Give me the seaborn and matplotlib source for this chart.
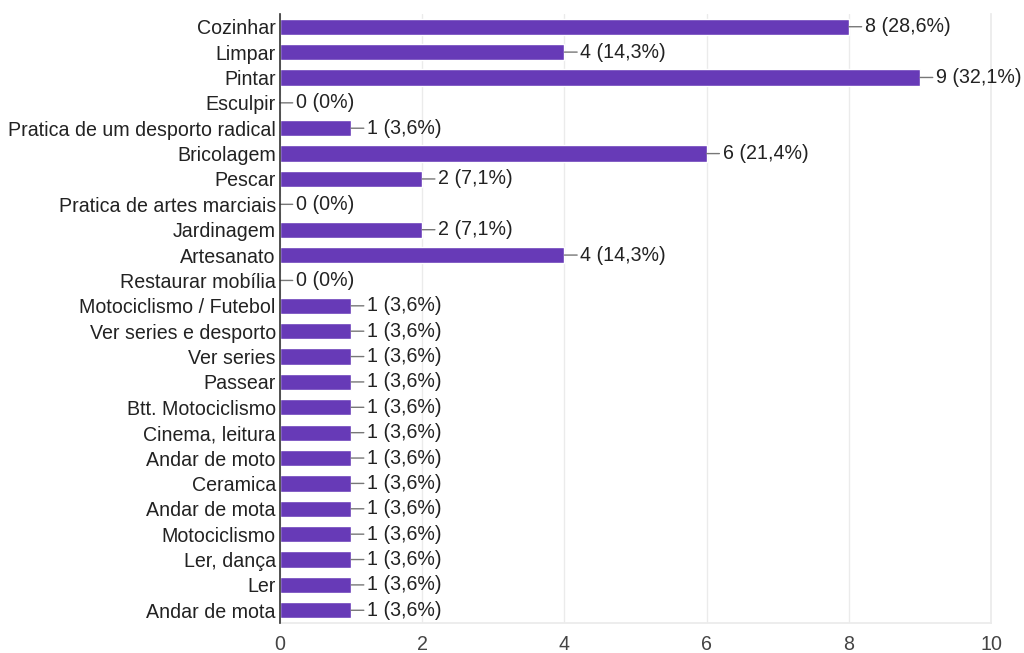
import matplotlib
matplotlib.use("Agg")
import matplotlib.pyplot as plt
import seaborn as sns
import pandas as pd

categories = ["Cozinhar", "Limpar", "Pintar", "Esculpir", "Pratica de um desporto radical",
              "Bricolagem", "Pescar", "Pratica de artes marciais", "Jardinagem", "Artesanato",
              "Restaurar mobília", "Motociclismo / Futebol", "Ver series e desporto", "Ver series",
              "Passear", "Btt. Motociclismo", "Cinema, leitura", "Andar de moto", "Ceramica",
              "Andar de mota", "Motociclismo", "Ler, dança", "Ler", "Andar de mota"]
counts = [8, 4, 9, 0, 1, 6, 2, 0, 2, 4, 0, 1, 1, 1, 1, 1, 1, 1, 1, 1, 1, 1, 1, 1]
total = 28
xticks = [0, 2, 4, 6, 8, 10]

sns.set_theme(style="white")
plt.rcParams['font.family'] = ['Liberation Sans', 'DejaVu Sans']

ids = [f"r{i}" for i in range(len(categories))]
df = pd.DataFrame({"id": ids, "count": counts})

fig = plt.figure(figsize=(10.24, 6.53), dpi=100)
ax = fig.add_axes([0.2734, 0.046, 0.6945, 0.9325])
sns.barplot(data=df, x="count", y="id", order=ids, orient="h", color="#673ab7",
            saturation=1, width=0.64, ax=ax, zorder=3)

fs = 14.1
ax.set_xlim(0, 10)
ax.set_ylim(len(categories) - 0.5, -0.5)
ax.set_xticks(xticks)
ax.set_xticklabels([str(t) for t in xticks], fontsize=fs, color="#444444")
ax.set_yticks(range(len(categories)))
ax.set_yticklabels(categories, fontsize=fs, color="#222222")
ax.tick_params(axis="both", length=0)
ax.tick_params(axis="y", pad=3)
ax.tick_params(axis="x", pad=9)
ax.set_xlabel("")
ax.set_ylabel("")
ax.grid(axis="x", color="#ebebeb", linewidth=1, zorder=0)
ax.spines["top"].set_visible(False)
ax.spines["right"].set_color("#ebebeb")
ax.spines["bottom"].set_color("#ebebeb")
ax.spines["left"].set_color("#333333")
ax.spines["left"].set_linewidth(1.2)
ax.spines["left"].set_zorder(5)

for i, v in enumerate(counts):
    pct = v / total * 100
    pct_s = f"{pct:.1f}".replace(".", ",")
    if pct_s.endswith(",0"):
        pct_s = pct_s[:-2]
    label = f"{v} ({pct_s}%)"
    ax.annotate(label, xy=(v, i), xytext=(16, 0), textcoords="offset pixels",
                ha="left", va="center", fontsize=fs, color="#222222",
                arrowprops=dict(arrowstyle="-", color="#777777", lw=1,
                                shrinkA=0, shrinkB=0), zorder=4)

fig.savefig("out.png", dpi=100)
